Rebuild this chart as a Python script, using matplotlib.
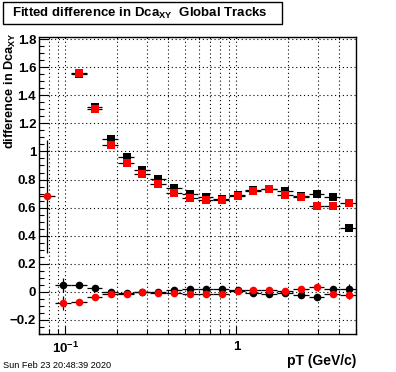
import numpy as np
import matplotlib
matplotlib.use("Agg")
import matplotlib.pyplot as plt
from matplotlib.patches import Rectangle
from matplotlib.ticker import FixedLocator, FixedFormatter, NullFormatter, MultipleLocator

plt.rcParams['font.family'] = ['Liberation Sans', 'DejaVu Sans']
plt.rcParams['font.weight'] = 'bold'
plt.rcParams['mathtext.fontset'] = 'custom'
plt.rcParams['mathtext.rm'] = 'Liberation Sans:bold'
plt.rcParams['mathtext.it'] = 'Liberation Sans:bold'
plt.rcParams['mathtext.bf'] = 'Liberation Sans:bold'

# ---- data ----
pt_edges = [0.07, 0.0867, 0.1073, 0.1328, 0.1644, 0.2036, 0.2520, 0.3120, 0.3863,
            0.4783, 0.5921, 0.7331, 0.9075, 1.1236, 1.3910, 1.7221, 2.1320, 2.6395,
            3.2678, 4.0456, 5.0]

black_sq = [np.nan, np.nan, 1.550, 1.316, 1.086, 0.957, 0.871, 0.802, 0.738, 0.698,
            0.677, 0.662, 0.688, 0.728, 0.735, 0.718, 0.686, 0.695, 0.674, 0.452]
black_sq_err = [0.01] * 20

red_sq = [np.nan, np.nan, 1.562, 1.300, 1.045, 0.921, 0.838, 0.766, 0.705, 0.667,
          0.652, 0.657, 0.681, 0.716, 0.731, 0.690, 0.674, 0.610, 0.610, 0.631]
red_sq_err = [0.01] * 19 + [0.015]

black_circ = [np.nan, 0.050, 0.050, 0.031, 0.002, -0.005, 0.000, -0.003, 0.010, 0.020,
              0.020, 0.020, 0.012, -0.005, -0.014, -0.010, -0.024, -0.040, 0.017, 0.024]
black_circ_err = [0.01, 0.05, 0.01, 0.015, 0.01, 0.01, 0.01, 0.01, 0.01, 0.01,
                  0.01, 0.01, 0.01, 0.01, 0.01, 0.01, 0.01, 0.01, 0.01, 0.03]

red_circ = [0.680, -0.081, -0.074, -0.036, -0.017, -0.012, -0.002, -0.005, -0.005, -0.012,
            -0.012, -0.014, 0.005, 0.012, 0.012, 0.005, 0.019, 0.036, -0.017, -0.021]
red_circ_err = [0.40, 0.05, 0.01, 0.015, 0.01, 0.01, 0.01, 0.01, 0.01, 0.01,
                0.01, 0.01, 0.01, 0.01, 0.01, 0.01, 0.01, 0.01, 0.01, 0.03]

ytick_vals = [-0.2, 0, 0.2, 0.4, 0.6, 0.8, 1.0, 1.2, 1.4, 1.6, 1.8]
ytick_labels = ['\u22120.2', '0', '0.2', '0.4', '0.6', '0.8', '1', '1.2', '1.4', '1.6', '1.8']
xtick_vals = [0.1, 1.0]
xtick_labels = ['$10^{-1}$', '1']

title_text = 'Fitted difference in Dca$_{\\mathrm{XY}}$  Global Tracks'
ylabel_text = 'difference in Dca$_{\\mathrm{XY}}$'
xlabel_text = 'pT (GeV/c)'
date_text = 'Sun Feb 23 20:48:39 2020'

# ---- figure ----
W, H = 396, 372
fig = plt.figure(figsize=(W / 100, H / 100), dpi=100)
ax = fig.add_axes([39 / W, 1 - 334 / H, (356 - 39) / W, (334 - 37) / H])

edges = np.array(pt_edges)
centers = 0.5 * (edges[:-1] + edges[1:])
xerr = 0.5 * (edges[1:] - edges[:-1])

common = dict(ecolor='black', elinewidth=0.9, capsize=0, linestyle='none',
              markeredgewidth=0)
ax.errorbar(centers, black_sq, xerr=xerr, yerr=black_sq_err, marker='s',
            color='black', markersize=5.2, zorder=3, **common)
ax.errorbar(centers, red_sq, xerr=xerr, yerr=red_sq_err, marker='s',
            color='#ff0000', markersize=5.2, zorder=4, **common)
ax.errorbar(centers, black_circ, xerr=xerr, yerr=black_circ_err, marker='o',
            color='black', markersize=5.5, zorder=5, **common)
ax.errorbar(centers, red_circ, xerr=xerr, yerr=red_circ_err, marker='o',
            color='#ff0000', markersize=5.5, zorder=6, **common)

ax.set_xscale('log')
ax.set_xlim(pt_edges[0], pt_edges[-1])
ax.set_ylim(-0.3, 1.815)

ax.xaxis.set_major_locator(FixedLocator(xtick_vals))
ax.xaxis.set_major_formatter(FixedFormatter(xtick_labels))
ax.xaxis.set_minor_locator(matplotlib.ticker.LogLocator(base=10, subs=np.arange(2, 10)))
ax.xaxis.set_minor_formatter(NullFormatter())

ax.yaxis.set_major_locator(FixedLocator(ytick_vals))
ax.yaxis.set_major_formatter(FixedFormatter(ytick_labels))
ax.yaxis.set_minor_locator(MultipleLocator(0.05))

ax.tick_params(axis='both', which='both', direction='in', top=False, right=False,
               width=0.8, labelsize=9.5)
ax.tick_params(axis='y', which='major', length=7.2, pad=2)
ax.tick_params(axis='y', which='minor', length=3.6)
ax.tick_params(axis='x', which='major', length=6, pad=5)
ax.tick_params(axis='x', which='minor', length=3.6)

grid_style = dict(color='black', linestyle=(0, (1, 2.5)), linewidth=0.8)
ax.grid(True, which='both', axis='x', **grid_style)
ax.grid(True, which='major', axis='y', **grid_style)
ax.set_axisbelow(True)
for s in ax.spines.values():
    s.set_linewidth(1.0)

# titles and labels
fig.text(10 / W, 1 - 32 / H, ylabel_text, rotation=90, ha='center', va='top',
         fontsize=9.2, fontweight='bold')
fig.text(356 / W, 1 - 361 / H, xlabel_text, ha='right', va='center',
         fontsize=10, fontweight='bold')
fig.text(3 / W, 1 - 365 / H, date_text, ha='left', va='center', fontsize=6.6,
         fontweight='normal')

fig.patches.append(Rectangle((3 / W, 1 - 24 / H), (282 - 3) / W, 22 / H,
                             transform=fig.transFigure, facecolor='white',
                             edgecolor='black', linewidth=1.0))
fig.text(12 / W, 1 - 13 / H, title_text, ha='left', va='center', fontsize=9.5,
         fontweight='bold')

fig.savefig('out.png', dpi=100)
